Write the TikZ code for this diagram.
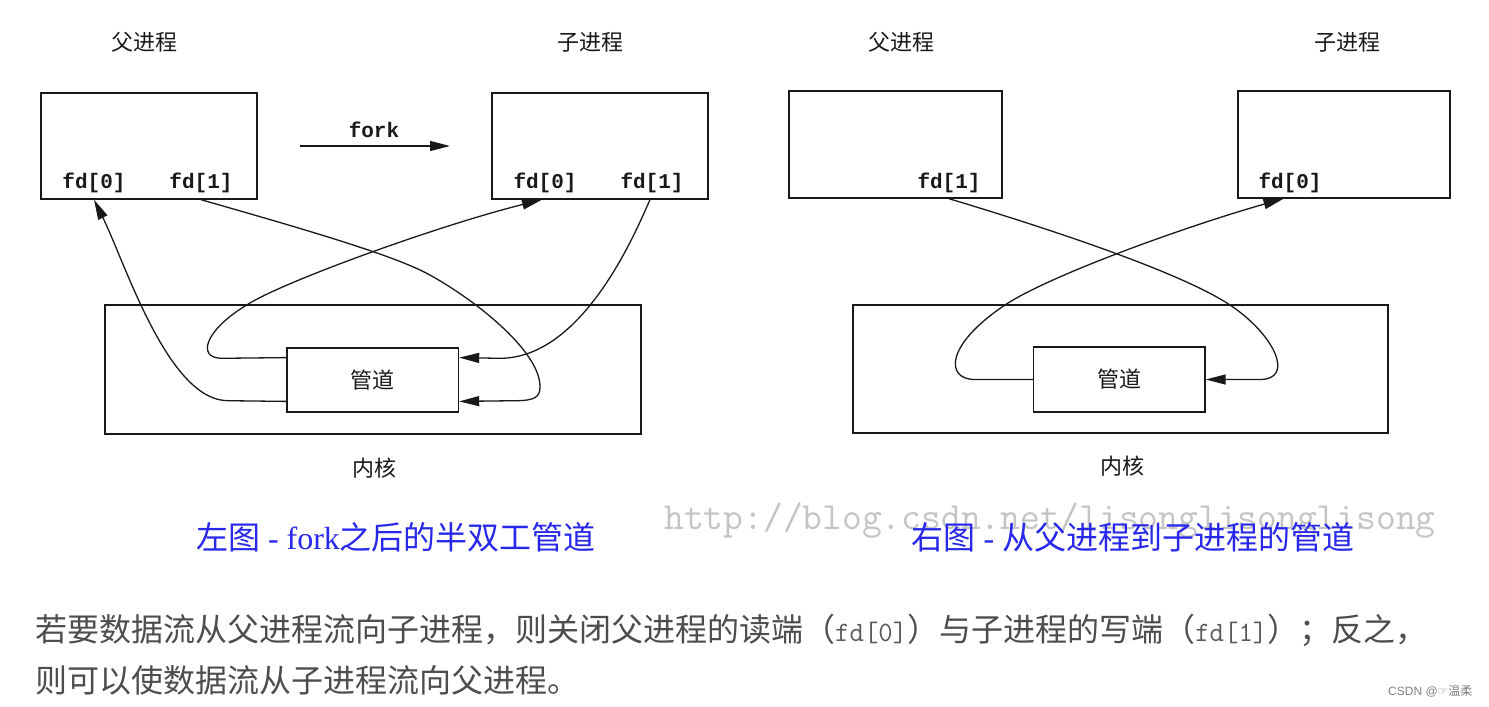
\documentclass[tikz,border=0pt]{standalone}
\usepackage{fontspec}
\setmainfont{Liberation Serif}
\newfontfamily\cjkfont{Noto Sans CJK SC}
\newfontfamily\symfont{DejaVu Sans}
\newfontfamily\sansfont{Liberation Sans}
\newfontfamily\monofont{Liberation Mono}
\usetikzlibrary{arrows.meta,calc}
\definecolor{capblue}{RGB}{40,40,235}
\definecolor{bodygray}{RGB}{77,77,77}
\definecolor{fdgray}{RGB}{90,90,90}
\definecolor{wmgray}{RGB}{196,196,196}
\definecolor{lineblk}{RGB}{25,25,25}
\newcommand{\fdb}{\ttfamily\fontsize{28}{32}\selectfont\color{fdgray}}
\begin{document}
\begin{tikzpicture}[x=1pt,y=-1pt,
  box/.style={draw=lineblk,line width=1.4pt,inner sep=0pt},
  conn/.style={draw=lineblk,line width=1.3pt},
  arr/.style={conn,-{Triangle[length=20pt,width=10pt]}},
  cjklab/.style={font=\cjkfont\fontsize{22}{26}\selectfont,text=lineblk},
  fdlab/.style={font=\monofont\bfseries\fontsize{21}{24}\selectfont,text=lineblk},
  capstyle/.style={font=\cjkfont\fontsize{32}{36}\selectfont,text=capblue},
  bodystyle/.style={font=\cjkfont\fontsize{32}{38}\selectfont,text=bodygray,anchor=west,inner sep=0pt},
]
\useasboundingbox (0,0) rectangle (1489,707);
\fill[white] (0,0) rectangle (1489,707);

% ---------- left diagram ----------
\node[cjklab] (lp) at (144,42) {父进程};
\node[cjklab] (lc) at (590,42) {子进程};
\node[box,minimum width=216pt,minimum height=106pt] (P1) at (149,146) {};
\node[box,minimum width=216pt,minimum height=106pt] (C1) at (600,146) {};
\node[fdlab] (f0a) at (94,183) {fd[0]};
\node[fdlab] (f1a) at (201,183) {fd[1]};
\node[fdlab] (f0b) at (545,183) {fd[0]};
\node[fdlab] (f1b) at (652,183) {fd[1]};
\node[fdlab] (forklab) at (374,130) {fork};
\coordinate (forkS) at (300,146);
\coordinate (forkE) at (450,146);
\draw[arr] (forkS) -- (forkE);
\node[box,minimum width=536pt,minimum height=129pt] (K1) at (373,369.5) {};
\node[box,cjklab,minimum width=171.5pt,minimum height=64pt] (Pipe1) at (372.75,380) {管道};
\node[cjklab] (k1lab) at (374,468) {内核};

\draw[arr] ($(Pipe1.south west)+(0,-11.3)$) -- (228,400.7)
  .. controls (168,400.7) and (125,262.3) .. (f0a |- P1.south);
\draw[arr] ($(Pipe1.north west)+(0,10.3)$) -- (222,358.3)
  .. controls (196,358.3) and (205,330) .. (246.7,305)
  .. controls (282,282) and (440,225) .. ($(f0b |- C1.south)+(-3,0)$);
\draw[arr] (f1a |- P1.south) .. controls (300,228) and (390,254) .. (426.7,273.3)
  .. controls (471.7,297.3) and (540,350) .. (540,386.7)
  .. controls (540,397) and (535,400.7) .. (515,400.7)
  -- ($(Pipe1.south east)+(0,-11.3)$);
\draw[arr] ($(f1b |- C1.south)+(-2,0)$) .. controls (638,226) and (585,358.3) .. (500,358.3)
  -- ($(Pipe1.north east)+(0,10.3)$);

% ---------- right diagram ----------
\node[cjklab] (rp) at (901,42) {父进程};
\node[cjklab] (rc) at (1347,42) {子进程};
\node[box,minimum width=213pt,minimum height=107pt] (P2) at (895.5,144.5) {};
\node[box,minimum width=212pt,minimum height=107pt] (C2) at (1344,144.5) {};
\node[fdlab] (f1c) at (949,183) {fd[1]};
\node[fdlab] (f0c) at (1290,183) {fd[0]};
\node[box,minimum width=535pt,minimum height=128pt] (K2) at (1120.5,369) {};
\node[box,cjklab,minimum width=171.5pt,minimum height=65pt] (Pipe2) at (1119.25,379.5) {管道};
\node[cjklab] (k2lab) at (1122,466) {内核};

\draw[arr] (f1c |- P2.south) .. controls (1050,229) and (1180,272) .. (1230,305)
  .. controls (1275,335) and (1295,379.5) .. (1260,379.5) -- (Pipe2.east);
\draw[arr] (Pipe2.west) -- (975,379.5)
  .. controls (945,379.5) and (945,345) .. (1005,305)
  .. controls (1050,275) and (1190,225) .. ($(f0c |- C2.south)+(-6.5,0)$);

% ---------- captions ----------
\node[font=\ttfamily\fontsize{38.4}{42}\selectfont,text=wmgray] (wm) at (1050,521) {http://blog.csdn.net/lisonglisonglisong};
\node[capstyle] (capL) at (396,537) {左图{\rmfamily\ -\ fork}之后的半双工管道};
\node[capstyle] (capR) at (1133,537) {右图{\rmfamily\ -\ }从父进程到子进程的管道};

% ---------- body text ----------
\node[bodystyle] (t1) at (35,630) {若要数据流从父进程流向子进程，则关闭父进程的读端（{\fdb fd[0]}）与子进程的写端（{\fdb fd[1]}）；反之，};
\node[bodystyle] (t2) at (35,680) {则可以使数据流从子进程流向父进程。};
\node[font=\sansfont\fontsize{12}{14}\selectfont,text=gray,anchor=east] (csdn) at (1476,691) {CSDN @{\symfont ☞}{\cjkfont 温柔}};
\end{tikzpicture}
\end{document}
